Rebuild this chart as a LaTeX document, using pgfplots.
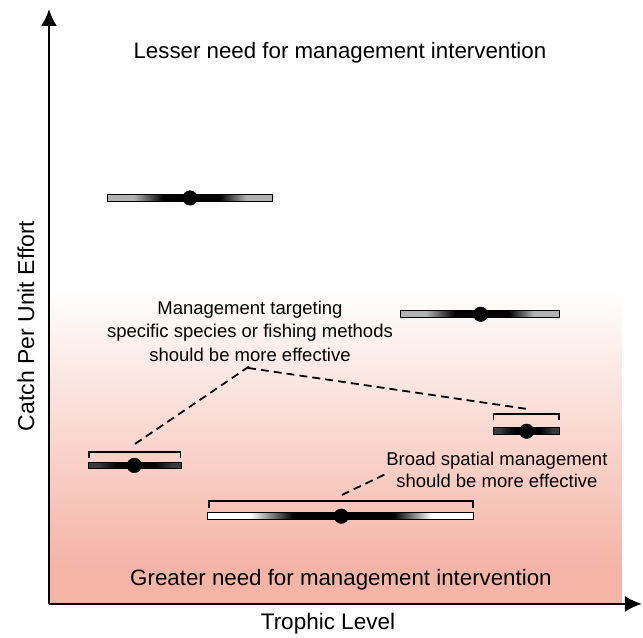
\documentclass[border=0pt]{standalone}
\usepackage{pgfplots}
\pgfplotsset{compat=1.18}
\usepackage{fontspec}
\setmainfont{Liberation Sans}
\usetikzlibrary{arrows.meta}
\definecolor{pinkbg}{RGB}{245,180,166}
\definecolor{lightend}{RGB}{178,178,178}
\definecolor{darkend}{RGB}{60,60,60}
\pgfdeclarehorizontalshading{bargray}{100bp}{color(0bp)=(lightend); color(25bp)=(lightend); color(33bp)=(lightend); color(42bp)=(black); color(59bp)=(black); color(67bp)=(lightend); color(75bp)=(lightend); color(100bp)=(lightend)}
\pgfdeclarehorizontalshading{barwhite}{100bp}{color(0bp)=(white); color(25bp)=(white); color(33bp)=(white); color(41bp)=(black); color(60bp)=(black); color(67bp)=(white); color(75bp)=(white); color(100bp)=(white)}
\pgfdeclarehorizontalshading{bardark}{100bp}{color(0bp)=(darkend); color(25bp)=(darkend); color(30bp)=(darkend); color(40bp)=(black); color(60bp)=(black); color(70bp)=(darkend); color(75bp)=(darkend); color(100bp)=(darkend)}
\pgfdeclareverticalshading{bgshade}{100bp}{color(0bp)=(pinkbg); color(25bp)=(pinkbg); color(31bp)=(pinkbg); color(75bp)=(white); color(100bp)=(white)}
\begin{document}
\begin{tikzpicture}
\begin{axis}[
  scale only axis, width=593pt, height=595pt,
  xmin=0, xmax=593, ymin=0, ymax=595,
  axis lines=left, axis on top=true, clip=false,
  xtick=\empty, ytick=\empty,
  axis line style={line width=2.2pt, -{Latex[length=17pt,width=16pt]}},
]
% background gradient
\addplot[draw=none, shading=bgshade] coordinates {(0,0) (573,0) (573,316) (0,316)} -- cycle;
% bars
\addplot[draw=black, line width=1pt, shading=bargray] coordinates {(58.3,402.5) (223.7,402.5) (223.7,409.5) (58.3,409.5)} -- cycle;
\addplot[draw=black, line width=1pt, shading=bargray] coordinates {(352,286.2) (510.3,286.2) (510.3,293.2) (352,293.2)} -- cycle;
\addplot[draw=black, line width=1pt, shading=bardark] coordinates {(40,135.2) (132.7,135.2) (132.7,141.8) (40,141.8)} -- cycle;
\addplot[draw=black, line width=1pt, shading=bardark] coordinates {(444.3,169.4) (511,169.4) (511,176) (444.3,176)} -- cycle;
\addplot[draw=black, line width=1pt, shading=barwhite] coordinates {(159,84.4) (425,84.4) (425,91) (159,91)} -- cycle;
% brackets
\addplot[black, line width=1.6pt] coordinates {(40,145.7) (40,151.7) (131.5,151.7) (131.5,145.7)};
\addplot[black, line width=1.6pt] coordinates {(444.5,184) (444.5,190) (510,190) (510,184)};
\addplot[black, line width=1.6pt] coordinates {(160,95.7) (160,103) (424,103) (424,95.7)};
% dashed leaders
\addplot[black, line width=1.8pt, dash pattern=on 8pt off 5pt] coordinates {(86,160) (201,238)};
\addplot[black, line width=1.8pt, dash pattern=on 8pt off 5pt] coordinates {(199,236) (478,195)};
\addplot[black, line width=1.8pt, dash pattern=on 8pt off 5pt] coordinates {(293,109) (339,131)};
% dots
\addplot[only marks, mark=*, mark size=7.3pt, black] coordinates {(141,406) (431.7,289.7) (85.3,138.5) (477.7,172.7) (292.3,87.7)};
% texts
\node[font=\fontsize{22.3}{26}\selectfont] at (axis cs:291,551) {Lesser need for management intervention};
\node[font=\fontsize{22.3}{26}\selectfont] at (axis cs:292,24) {Greater need for management intervention};
\node[font=\fontsize{22.5}{26}\selectfont] at (axis cs:279,-20) {Trophic Level};
\node[font=\fontsize{23}{26}\selectfont, rotate=90] at (axis cs:-23,278) {Catch Per Unit Effort};
\node[align=center, font=\fontsize{18.5}{23.5}\selectfont] at (axis cs:201,273) {Management targeting\\specific species or fishing methods\\should be more effective};
\node[align=center, font=\fontsize{18.5}{22}\selectfont] at (axis cs:448,134) {Broad spatial management\\should be more effective};
\path (axis cs:-49,-34) rectangle (axis cs:594,604);
\end{axis}
\end{tikzpicture}
\end{document}
